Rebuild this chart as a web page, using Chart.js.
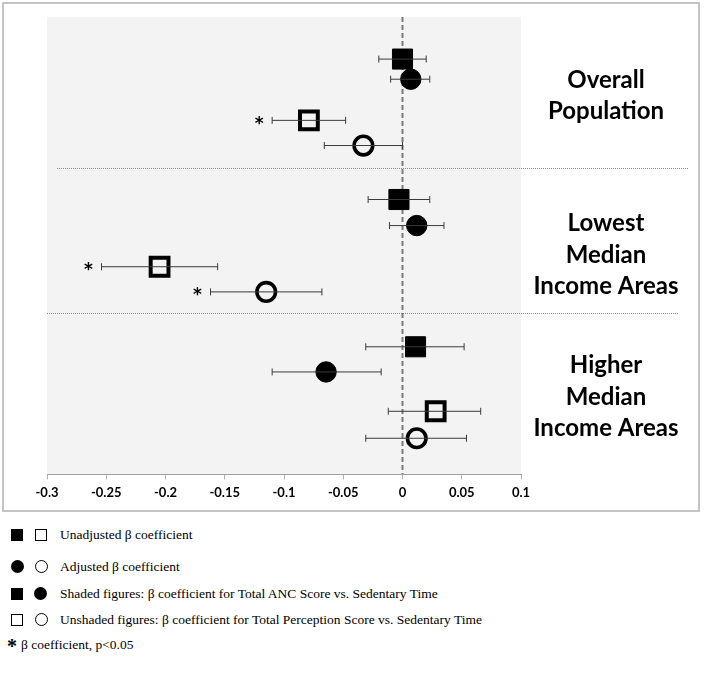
<!DOCTYPE html>
<html>
<head>
<meta charset="utf-8">
<script src="https://cdn.jsdelivr.net/npm/chart.js@4.4.1/dist/chart.umd.min.js"></script>
<style>
  body { margin: 0; background: #fff; }
  #wrap { position: relative; width: 706px; height: 680px; }
  #frame { position: absolute; left: 2px; top: 2px; width: 694px; height: 506px; border: 2px solid #c4c4c4; }
  canvas { position: absolute; left: 0; top: 0; }
  .leg { position: absolute; left: 0; font-family: "Liberation Serif", "Times New Roman", serif; font-size: 13.5px; color: #000; height: 16px; line-height: 16px; }
  .ico { position: absolute; top: 2px; width: 12px; height: 12px; box-sizing: border-box; }
  .fs { background: #000; }
  .os { border: 1.5px solid #000; }
  .fc { background: #000; border-radius: 50%; width: 13px; height: 13px; top: 1px; }
  .oc { border: 1.5px solid #000; border-radius: 50%; width: 13px; height: 13px; top: 1px; }
  .txt { position: absolute; left: 60px; white-space: nowrap; }
</style>
</head>
<body>
<div id="wrap">
  <div id="frame"></div>
  <canvas id="forest" width="706" height="520"></canvas>

  <div class="leg" style="top:527px"><div class="ico fs" style="left:11px"></div><div class="ico os" style="left:35px"></div><span class="txt">Unadjusted β coefficient</span></div>
  <div class="leg" style="top:559px"><div class="ico fc" style="left:11px"></div><div class="ico oc" style="left:35px"></div><span class="txt">Adjusted β coefficient</span></div>
  <div class="leg" style="top:586px"><div class="ico fs" style="left:11px"></div><div class="ico fc" style="left:34px"></div><span class="txt">Shaded figures: β coefficient for Total ANC Score vs. Sedentary Time</span></div>
  <div class="leg" style="top:612px"><div class="ico os" style="left:11px"></div><div class="ico oc" style="left:35px"></div><span class="txt">Unshaded figures: β coefficient for Total Perception Score vs. Sedentary Time</span></div>
  <div class="leg" style="top:637px"><span style="position:absolute;left:7px;top:1px;font-weight:bold;font-size:20px">*</span><span class="txt" style="left:21px">β coefficient, p&lt;0.05</span></div>
</div>

<script>
// grupos (de arriba hacia abajo)
const grupos = [['Overall', 'Population'], ['Lowest', 'Median', 'Income Areas'], ['Higher', 'Median', 'Income Areas']];
const grupoY = [1.72, 5.2, 8.31];

// posicion vertical de cada fila (escala 0-10)
const filaCuadLleno = [0.92, 3.99, 7.21];
const filaCircLleno = [1.36, 4.56, 7.76];
const filaCuadVacio = [2.26, 5.46, 8.62];
const filaCircVacio = [2.81, 6.01, 9.21];
const separadores = [3.30, 6.48];

// ANC, no ajustado (cuadrado lleno)
const cuadLleno = [0.0, -0.003, 0.011];
const cuadLlenoInf = [-0.020, -0.029, -0.031];
const cuadLlenoSup = [0.020, 0.023, 0.052];

// ANC, ajustado (circulo lleno)
const circLleno = [0.007, 0.012, -0.0645];
const circLlenoInf = [-0.010, -0.011, -0.110];
const circLlenoSup = [0.023, 0.035, -0.018];

// Percepcion, no ajustado (cuadrado vacio)
const cuadVacio = [-0.079, -0.205, 0.028];
const cuadVacioInf = [-0.110, -0.254, -0.012];
const cuadVacioSup = [-0.048, -0.156, 0.066];
const cuadVacioSig = [true, true, false];

// Percepcion, ajustado (circulo vacio)
const circVacio = [-0.033, -0.115, 0.012];
const circVacioInf = [-0.066, -0.162, -0.031];
const circVacioSup = [0.0, -0.068, 0.054];
const circVacioSig = [false, true, false];

const ticksX = [-0.3, -0.25, -0.2, -0.15, -0.1, -0.05, 0, 0.05, 0.1];

const series = [
    { est: cuadLleno, inf: cuadLlenoInf, sup: cuadLlenoSup, fila: filaCuadLleno, estilo: 'rect', lleno: true },
    { est: circLleno, inf: circLlenoInf, sup: circLlenoSup, fila: filaCircLleno, estilo: 'circle', lleno: true },
    { est: cuadVacio, inf: cuadVacioInf, sup: cuadVacioSup, fila: filaCuadVacio, estilo: 'rect', lleno: false, sig: cuadVacioSig },
    { est: circVacio, inf: circVacioInf, sup: circVacioSup, fila: filaCircVacio, estilo: 'circle', lleno: false, sig: circVacioSig }
];

// Barras de error: una linea por fila
const datasets = [];
series.forEach(s => {
    s.est.forEach((v, i) => {
        datasets.push({
            type: 'line',
            data: [{ x: s.inf[i], y: s.fila[i] }, { x: s.sup[i], y: s.fila[i] }],
            borderColor: '#3a3a3a',
            borderWidth: 1,
            pointStyle: 'line',
            rotation: 90,
            pointRadius: 3.5,
            pointBorderWidth: 1,
            pointBorderColor: '#3a3a3a',
            pointHoverRadius: 3.5
        });
    });
});

// Marcadores
series.forEach(s => {
    const esCuad = s.estilo === 'rect';
    let radio, borde;
    if (s.lleno) { radio = esCuad ? 14.2 : 10.2; borde = 1; }
    else { radio = esCuad ? 12.6 : 9.3; borde = esCuad ? 4 : 3.6; }
    datasets.push({
        type: 'scatter',
        data: s.est.map((v, i) => ({ x: v, y: s.fila[i] })),
        pointStyle: s.estilo,
        pointRadius: radio,
        pointHoverRadius: radio,
        borderWidth: borde,
        pointBorderColor: '#000',
        pointBackgroundColor: s.lleno ? '#000' : 'rgba(0,0,0,0)'
    });
});

const decoracion = {
    id: 'decoracion',
    beforeDraw(chart) {
        const { ctx, chartArea: a, scales: { x, y } } = chart;
        ctx.save();
        ctx.fillStyle = '#f3f3f3';
        ctx.fillRect(a.left, a.top, a.right - a.left, a.bottom - a.top);
        // separadores punteados
        ctx.strokeStyle = '#8a8a8a';
        ctx.lineWidth = 1;
        ctx.setLineDash([1, 1]);
        separadores.forEach((s, i) => {
            const py = Math.round(y.getPixelForValue(s)) + 0.5;
            ctx.beginPath();
            ctx.moveTo(a.left + (i === 0 ? 10 : 0), py);
            ctx.lineTo(a.right + (i === 0 ? 167 : 157), py);
            ctx.stroke();
        });
        // linea en cero
        const x0 = x.getPixelForValue(0);
        ctx.strokeStyle = '#7a7a7a';
        ctx.lineWidth = 2;
        ctx.setLineDash([5, 3]);
        ctx.beginPath();
        ctx.moveTo(x0, a.top);
        ctx.lineTo(x0, a.bottom);
        ctx.stroke();
        ctx.restore();
    },
    afterDraw(chart) {
        const { ctx, chartArea: a, scales: { x, y } } = chart;
        ctx.save();
        // asteriscos de significancia
        ctx.fillStyle = '#000';
        ctx.font = 'bold 17px "DejaVu Sans", sans-serif';
        ctx.textAlign = 'center';
        ctx.textBaseline = 'middle';
        series.forEach(s => {
            if (!s.sig) return;
            s.sig.forEach((sig, i) => {
                if (!sig) return;
                ctx.fillText('*', x.getPixelForValue(s.inf[i]) - 13, y.getPixelForValue(s.fila[i]) + 4);
            });
        });
        // etiquetas de grupo
        ctx.font = 'bold 24px Lato, sans-serif';
        grupos.forEach((lineas, g) => {
            const cy = y.getPixelForValue(grupoY[g]);
            const alto = 31.5;
            lineas.forEach((t, k) => {
                ctx.fillText(t, a.right + 85, cy + (k - (lineas.length - 1) / 2) * alto);
            });
        });
        ctx.restore();
    }
};

new Chart(document.getElementById('forest'), {
    data: { datasets: datasets },
    options: {
        responsive: false,
        animation: false,
        events: [],
        layout: { padding: { left: 47, right: 185, top: 17, bottom: 13 } },
        plugins: { legend: { display: false }, tooltip: { enabled: false } },
        scales: {
            x: {
                type: 'linear',
                min: -0.3,
                max: 0.1,
                afterBuildTicks: axis => { axis.ticks = ticksX.map(v => ({ value: v })); },
                ticks: {
                    color: '#000',
                    font: { family: 'Lato', size: 13, weight: 'bold' },
                    padding: 6,
                    maxRotation: 0,
                    callback: v => String(Math.round(v * 100) / 100)
                },
                grid: { drawOnChartArea: false, drawTicks: true, tickLength: 5, color: '#b0b0b0' },
                border: { display: true, color: '#a0a0a0', width: 1, dash: [1, 1] }
            },
            y: {
                type: 'linear',
                min: 0,
                max: 10,
                reverse: true,
                display: false
            }
        }
    },
    plugins: [decoracion]
});
</script>
</body>
</html>
